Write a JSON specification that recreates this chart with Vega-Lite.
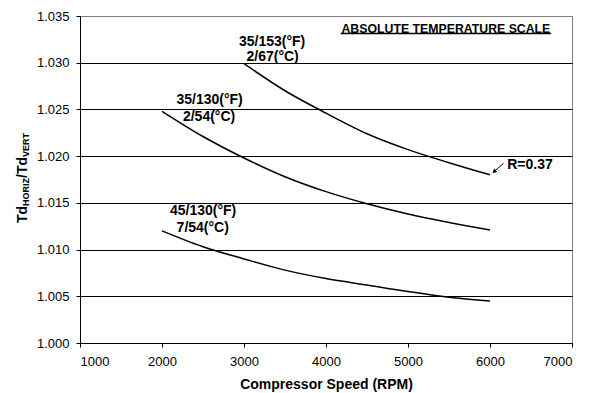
{
  "$schema": "https://vega.github.io/schema/vega-lite/v6.json",
  "width": 492,
  "height": 327,
  "autosize": "none",
  "padding": {"left": 80, "top": 16, "right": 20, "bottom": 50},
  "background": "white",
  "config": {
    "font": "Liberation Sans",
    "view": {"stroke": "#808080", "strokeWidth": 1}
  },
  "layer": [
    {
      "data": {"values": [
        {"series": "35/153", "rpm": 3000, "ratio": 1.0299},
        {"series": "35/153", "rpm": 3500, "ratio": 1.0270},
        {"series": "35/153", "rpm": 4000, "ratio": 1.0246},
        {"series": "35/153", "rpm": 4500, "ratio": 1.0224},
        {"series": "35/153", "rpm": 5000, "ratio": 1.0207},
        {"series": "35/153", "rpm": 5500, "ratio": 1.0193},
        {"series": "35/153", "rpm": 6000, "ratio": 1.0180},
        {"series": "35/130", "rpm": 2000, "ratio": 1.0248},
        {"series": "35/130", "rpm": 2500, "ratio": 1.0221},
        {"series": "35/130", "rpm": 3000, "ratio": 1.0198},
        {"series": "35/130", "rpm": 3500, "ratio": 1.0178},
        {"series": "35/130", "rpm": 4000, "ratio": 1.0162},
        {"series": "35/130", "rpm": 4500, "ratio": 1.0149},
        {"series": "35/130", "rpm": 5000, "ratio": 1.0138},
        {"series": "35/130", "rpm": 5500, "ratio": 1.0129},
        {"series": "35/130", "rpm": 6000, "ratio": 1.0121},
        {"series": "45/130", "rpm": 2000, "ratio": 1.0120},
        {"series": "45/130", "rpm": 2500, "ratio": 1.0103},
        {"series": "45/130", "rpm": 3000, "ratio": 1.0090},
        {"series": "45/130", "rpm": 3500, "ratio": 1.0078},
        {"series": "45/130", "rpm": 4000, "ratio": 1.0069},
        {"series": "45/130", "rpm": 4500, "ratio": 1.0062},
        {"series": "45/130", "rpm": 5000, "ratio": 1.0055},
        {"series": "45/130", "rpm": 5500, "ratio": 1.0049},
        {"series": "45/130", "rpm": 6000, "ratio": 1.0045}
      ]},
      "mark": {"type": "line", "color": "black", "strokeWidth": 1.5, "interpolate": "monotone"},
      "encoding": {
        "detail": {"field": "series"},
        "x": {
          "field": "rpm", "type": "quantitative",
          "scale": {"domain": [1000, 7000], "nice": false, "zero": false},
          "axis": {
            "title": "Compressor Speed (RPM)",
            "values": [1000, 2000, 3000, 4000, 5000, 6000, 7000],
            "format": "d",
            "grid": false,
            "domainColor": "black",
            "tickColor": "black",
            "tickSize": 4,
            "labelFontSize": 13,
            "labelColor": "black",
            "labelPadding": 8,
            "titleFontSize": 14,
            "titleFontWeight": "bold",
            "titleColor": "black",
            "titlePadding": 9
          }
        },
        "y": {
          "field": "ratio", "type": "quantitative",
          "scale": {"domain": [1.0, 1.035], "nice": false, "zero": false},
          "axis": {
            "title": null,
            "values": [1.0, 1.005, 1.01, 1.015, 1.02, 1.025, 1.03, 1.035],
            "format": ".3f",
            "grid": true,
            "gridColor": {"condition": {"test": "datum.value >= 1.0349", "value": "#808080"}, "value": "black"},
            "gridWidth": 1,
            "domainColor": "black",
            "tickColor": "black",
            "tickSize": 4,
            "labelFontSize": 13,
            "labelColor": "black",
            "labelPadding": 7
          }
        }
      }
    },
    {
      "data": {"values": [
        {"label": "35/153(°F)", "rpm": 3343, "ratio": 1.03225},
        {"label": "2/67(°C)", "rpm": 3349, "ratio": 1.03061},
        {"label": "35/130(°F)", "rpm": 2580, "ratio": 1.02601},
        {"label": "2/54(°C)", "rpm": 2574, "ratio": 1.02422},
        {"label": "45/130(°F)", "rpm": 2501, "ratio": 1.01412},
        {"label": "7/54(°C)", "rpm": 2497, "ratio": 1.01227}
      ]},
      "mark": {"type": "text", "fontSize": 14, "fontWeight": "bold", "align": "center", "baseline": "middle", "color": "black"},
      "encoding": {
        "x": {"field": "rpm", "type": "quantitative"},
        "y": {"field": "ratio", "type": "quantitative"},
        "text": {"field": "label"}
      }
    },
    {
      "data": {"values": [{"label": "R=0.37", "rpm": 6210, "ratio": 1.01905}]},
      "mark": {"type": "text", "fontSize": 14, "fontWeight": "bold", "align": "left", "baseline": "middle", "color": "black"},
      "encoding": {
        "x": {"field": "rpm", "type": "quantitative"},
        "y": {"field": "ratio", "type": "quantitative"},
        "text": {"field": "label"}
      }
    },
    {
      "data": {"values": [{"label": "ABSOLUTE TEMPERATURE SCALE", "rpm": 5462, "ratio": 1.03361}]},
      "mark": {"type": "text", "fontSize": 12.3, "fontWeight": "bold", "align": "center", "baseline": "middle", "color": "black"},
      "encoding": {
        "x": {"field": "rpm", "type": "quantitative"},
        "y": {"field": "ratio", "type": "quantitative"},
        "text": {"field": "label"}
      }
    },
    {
      "data": {"values": [{"rpm": 4180, "rpm2": 6745, "ratio": 1.03313}]},
      "mark": {"type": "rule", "color": "black", "strokeWidth": 1.5},
      "encoding": {
        "x": {"field": "rpm", "type": "quantitative"},
        "x2": {"field": "rpm2"},
        "y": {"field": "ratio", "type": "quantitative"}
      }
    },
    {
      "data": {"values": [{"rpm": 6165, "rpm2": 6040, "ratio": 1.01923, "ratio2": 1.01828}]},
      "mark": {"type": "rule", "color": "black", "strokeWidth": 1},
      "encoding": {
        "x": {"field": "rpm", "type": "quantitative"},
        "x2": {"field": "rpm2"},
        "y": {"field": "ratio", "type": "quantitative"},
        "y2": {"field": "ratio2"}
      }
    },
    {
      "data": {"values": [{"rpm": 6050, "ratio": 1.01835}]},
      "mark": {"type": "point", "shape": "triangle-up", "filled": true, "color": "black", "size": 22, "angle": 229, "opacity": 1},
      "encoding": {
        "x": {"field": "rpm", "type": "quantitative"},
        "y": {"field": "ratio", "type": "quantitative"}
      }
    },
    {
      "data": {"values": [{}]},
      "mark": {"type": "text", "text": "Td", "fontSize": 14, "fontWeight": "bold", "angle": 270, "align": "left", "baseline": "alphabetic", "dx": -43.5, "dy": -53.3, "color": "black"},
      "encoding": {"x": {"datum": 1000}, "y": {"datum": 1.0175}}
    },
    {
      "data": {"values": [{}]},
      "mark": {"type": "text", "text": "HORIZ", "fontSize": 9, "fontWeight": "bold", "angle": 270, "align": "left", "baseline": "alphabetic", "dx": -26.4, "dy": -51, "color": "black"},
      "encoding": {"x": {"datum": 1000}, "y": {"datum": 1.0175}}
    },
    {
      "data": {"values": [{}]},
      "mark": {"type": "text", "text": "/Td", "fontSize": 14, "fontWeight": "bold", "angle": 270, "align": "left", "baseline": "alphabetic", "dx": 1.6, "dy": -53.3, "color": "black"},
      "encoding": {"x": {"datum": 1000}, "y": {"datum": 1.0175}}
    },
    {
      "data": {"values": [{}]},
      "mark": {"type": "text", "text": "VERT", "fontSize": 9, "fontWeight": "bold", "angle": 270, "align": "left", "baseline": "alphabetic", "dx": 22.6, "dy": -51, "color": "black"},
      "encoding": {"x": {"datum": 1000}, "y": {"datum": 1.0175}}
    }
  ]
}
